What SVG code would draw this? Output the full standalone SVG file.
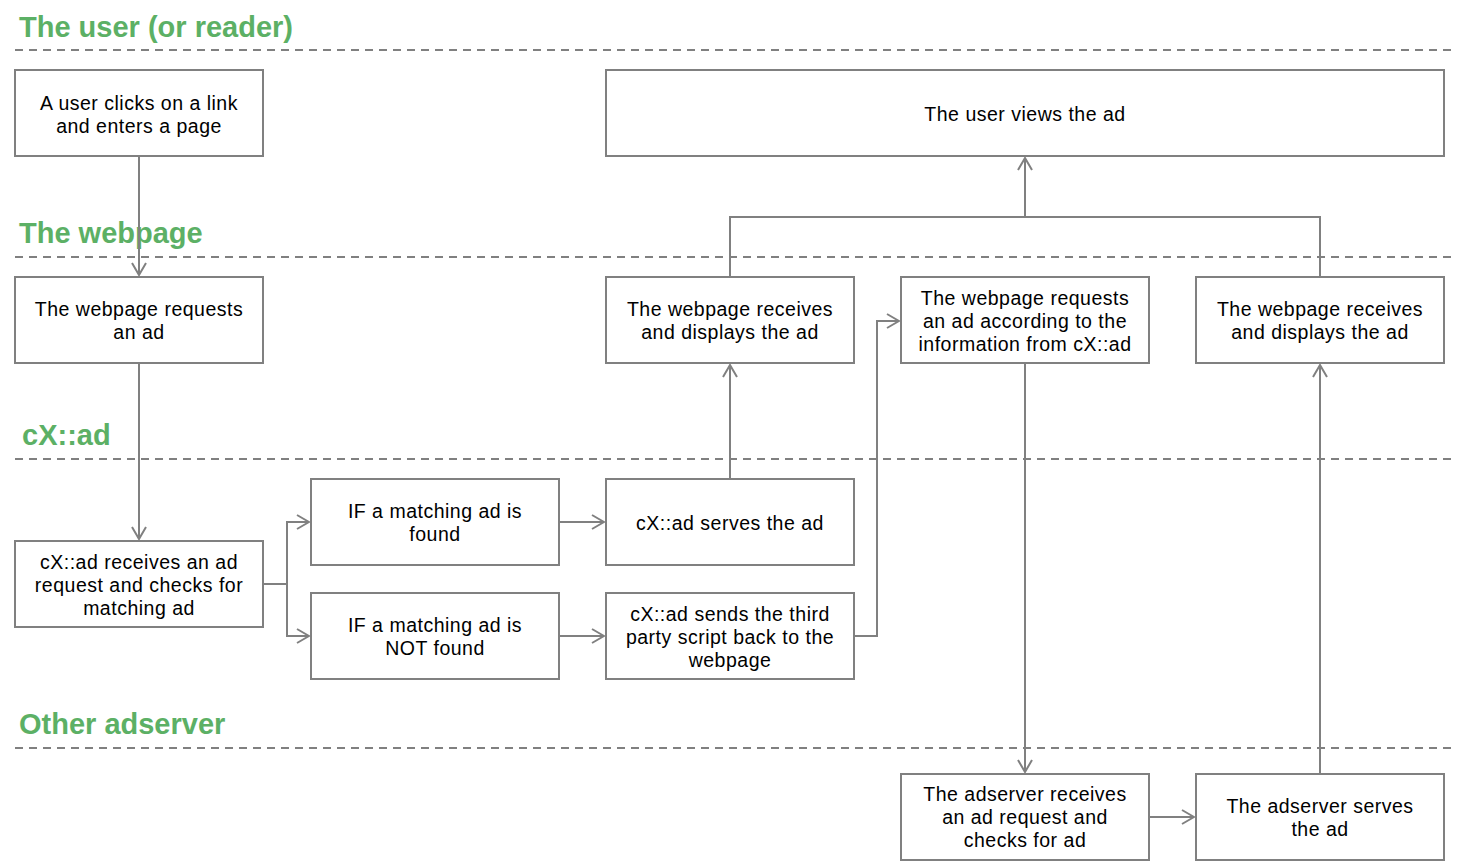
<svg xmlns="http://www.w3.org/2000/svg" width="1458" height="864" viewBox="0 0 1458 864">
<style>
.hdr{font-family:"Liberation Sans",Arial,sans-serif;font-size:29px;font-weight:bold;fill:#5cb065}
.sep{stroke:#808080;stroke-width:2.2;stroke-dasharray:8 6;fill:none}
.box{fill:#fff;stroke:#808080;stroke-width:2}
.t{font-family:"Liberation Sans",Arial,sans-serif;font-size:19.5px;letter-spacing:0.5px;fill:#000;text-anchor:middle}
.c{stroke:#808080;stroke-width:2;fill:none}
</style>
<defs>
<marker id="ar" markerUnits="userSpaceOnUse" viewBox="0 0 14 16" markerWidth="14" markerHeight="16" refX="13" refY="8" orient="auto">
<path d="M1,1 L13,8 L1,15" fill="none" stroke="#808080" stroke-width="2"/>
</marker>
</defs>
<rect width="1458" height="864" fill="#fff"/>
<g id="lanes">
<text class="hdr" x="19" y="37">The user (or reader)</text>
<line class="sep" x1="15" y1="50" x2="1452" y2="50"/>
<text class="hdr" x="19" y="243">The webpage</text>
<line class="sep" x1="15" y1="257" x2="1452" y2="257"/>
<text class="hdr" x="22" y="445">cX::ad</text>
<line class="sep" x1="15" y1="459" x2="1452" y2="459"/>
<text class="hdr" x="19" y="734">Other adserver</text>
<line class="sep" x1="15" y1="748" x2="1452" y2="748"/>
</g>
<g id="connectors">
<path class="c" d="M139,156 V275" marker-end="url(#ar)"/>
<path class="c" d="M139,363 V539" marker-end="url(#ar)"/>
<path class="c" d="M263,584 H287 V522 H309" marker-end="url(#ar)"/>
<path class="c" d="M263,584 H287 V636 H309" marker-end="url(#ar)"/>
<path class="c" d="M559,522 H604" marker-end="url(#ar)"/>
<path class="c" d="M559,636 H604" marker-end="url(#ar)"/>
<path class="c" d="M730,479 V365" marker-end="url(#ar)"/>
<path class="c" d="M854,636 H877 V321 H899" marker-end="url(#ar)"/>
<path class="c" d="M1025,363 V772" marker-end="url(#ar)"/>
<path class="c" d="M1149,817 H1194" marker-end="url(#ar)"/>
<path class="c" d="M1320,774 V365" marker-end="url(#ar)"/>
<path class="c" d="M730,277 V217 H1025 V158" marker-end="url(#ar)"/>
<path class="c" d="M1320,277 V217 H1025"/>
</g>
<g id="n1"><rect class="box" x="15" y="70" width="248" height="86"/><text class="t" x="139" y="110">A user clicks on a link</text><text class="t" x="139" y="133">and enters a page</text></g>
<g id="n2"><rect class="box" x="606" y="70" width="838" height="86"/><text class="t" x="1025" y="121">The user views the ad</text></g>
<g id="n3"><rect class="box" x="15" y="277" width="248" height="86"/><text class="t" x="139" y="316">The webpage requests</text><text class="t" x="139" y="339">an ad</text></g>
<g id="n4"><rect class="box" x="606" y="277" width="248" height="86"/><text class="t" x="730" y="316">The webpage receives</text><text class="t" x="730" y="339">and displays the ad</text></g>
<g id="n5"><rect class="box" x="901" y="277" width="248" height="86"/><text class="t" x="1025" y="305">The webpage requests</text><text class="t" x="1025" y="328">an ad according to the</text><text class="t" x="1025" y="351">information from cX::ad</text></g>
<g id="n6"><rect class="box" x="1196" y="277" width="248" height="86"/><text class="t" x="1320" y="316">The webpage receives</text><text class="t" x="1320" y="339">and displays the ad</text></g>
<g id="n7"><rect class="box" x="15" y="541" width="248" height="86"/><text class="t" x="139" y="569">cX::ad receives an ad</text><text class="t" x="139" y="592">request and checks for</text><text class="t" x="139" y="615">matching ad</text></g>
<g id="n8"><rect class="box" x="311" y="479" width="248" height="86"/><text class="t" x="435" y="518">IF a matching ad is</text><text class="t" x="435" y="541">found</text></g>
<g id="n9"><rect class="box" x="606" y="479" width="248" height="86"/><text class="t" x="730" y="530">cX::ad serves the ad</text></g>
<g id="n10"><rect class="box" x="311" y="593" width="248" height="86"/><text class="t" x="435" y="632">IF a matching ad is</text><text class="t" x="435" y="655">NOT found</text></g>
<g id="n11"><rect class="box" x="606" y="593" width="248" height="86"/><text class="t" x="730" y="621">cX::ad sends the third</text><text class="t" x="730" y="644">party script back to the</text><text class="t" x="730" y="667">webpage</text></g>
<g id="n12"><rect class="box" x="901" y="774" width="248" height="86"/><text class="t" x="1025" y="801">The adserver receives</text><text class="t" x="1025" y="824">an ad request and</text><text class="t" x="1025" y="847">checks for ad</text></g>
<g id="n13"><rect class="box" x="1196" y="774" width="248" height="86"/><text class="t" x="1320" y="813">The adserver serves</text><text class="t" x="1320" y="836">the ad</text></g>
</svg>
